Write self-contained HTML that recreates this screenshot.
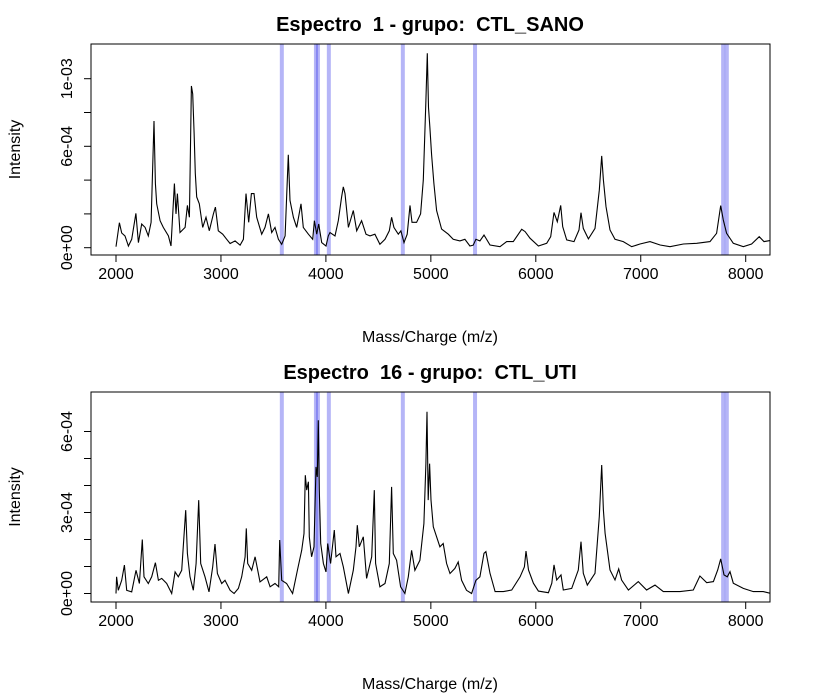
<!DOCTYPE html>
<html><head><meta charset="utf-8"><style>
body{margin:0;background:#fff;}
svg{display:block;font-family:"Liberation Sans",Arial,sans-serif;}
text{white-space:pre;}
</style></head><body>
<svg id="chart" width="816" height="694" viewBox="0 0 816 694" xmlns="http://www.w3.org/2000/svg"></svg>
<script>
// ---- data ----
const xTicks = [2000,3000,4000,5000,6000,7000,8000];
const bandMasses = [3580,3905,3924,4028,4733,5421,7785,7820];
const titles = ["Espectro  1 - grupo:  CTL_SANO","Espectro  16 - grupo:  CTL_UTI"];
// spectrum 1 (intensity in units of 1e-4)
const mass1 = [2000,2032,2054,2086,2118,2150,2190,2213,2245,2277,2308,2334,2362,2375,2388,2420,2451,2499,2524,2556,2572,2585,2610,2658,2680,2699,2718,2731,2744,2756,2769,2794,2826,2858,2889,2928,2947,2975,3017,3055,3087,3135,3182,3214,3239,3264,3290,3315,3341,3388,3420,3452,3484,3515,3547,3579,3611,3642,3658,3690,3722,3763,3785,3833,3874,3890,3912,3931,3960,4001,4023,4039,4087,4118,4150,4166,4182,4214,4261,4293,4340,4382,4420,4467,4515,4563,4604,4626,4648,4690,4715,4744,4775,4801,4820,4864,4902,4928,4953,4966,4978,4991,5007,5029,5055,5102,5166,5213,5277,5324,5372,5404,5429,5467,5506,5564,5659,5723,5786,5866,5898,5945,6025,6104,6142,6173,6205,6237,6256,6294,6364,6412,6431,6453,6501,6564,6605,6628,6644,6669,6707,6755,6834,6914,6993,7088,7184,7279,7406,7533,7660,7723,7762,7787,7818,7882,7977,8056,8129,8174,8231];
const int1 = [0.06,1.48,0.87,0.7,0.1,0.5,2.03,0.3,1.4,1.2,0.7,1.5,7.5,3.8,2.6,1.6,1.2,0.7,0.1,3.8,2.0,3.2,0.9,1.2,2.5,1.8,9.57,9.1,6.8,4.4,3.0,2.6,1.2,1.8,1.0,2.0,2.4,1.0,0.8,0.5,0.25,0.4,0.15,0.5,3.2,1.5,3.2,3.2,1.8,0.8,1.2,2.0,0.9,1.2,0.5,0.2,0.7,5.5,2.8,1.8,1.2,2.6,1.2,0.8,0.5,1.6,0.8,1.4,0.3,0.1,0.7,0.9,0.7,1.6,3.0,3.6,3.2,1.2,2.2,1.0,1.6,0.8,0.7,0.8,0.2,0.5,1.0,1.8,1.2,0.8,1.0,0.3,0.8,2.5,1.5,1.5,2.0,4.0,8.7,11.5,8.3,7.1,5.5,3.8,2.2,1.1,0.8,0.5,0.4,0.5,0.1,0.15,0.5,0.4,0.75,0.16,0.06,0.36,0.36,1.09,0.95,0.56,0.1,0.26,0.65,2.09,1.54,2.5,1.24,0.46,0.36,1.05,2.07,1.14,0.52,1.14,3.4,5.43,4.0,2.43,1.05,0.5,0.36,0.06,0.22,0.36,0.16,0.06,0.22,0.26,0.36,0.85,2.49,1.64,0.85,0.26,0.06,0.22,0.65,0.36,0.42];
// spectrum 16 (intensity in units of 1e-4)
const mass2 = [2000,2006,2022,2054,2080,2102,2150,2191,2223,2251,2267,2308,2340,2375,2404,2435,2483,2531,2563,2594,2626,2664,2680,2705,2737,2763,2788,2807,2848,2886,2921,2943,2966,3007,3039,3087,3125,3166,3198,3230,3242,3255,3293,3325,3372,3436,3468,3515,3550,3560,3579,3626,3683,3728,3769,3791,3804,3817,3833,3842,3864,3887,3906,3918,3928,3937,3950,3976,4001,4017,4045,4080,4096,4134,4166,4214,4261,4287,4299,4318,4356,4388,4436,4461,4474,4515,4563,4604,4626,4642,4674,4712,4753,4785,4817,4848,4896,4934,4953,4963,4975,4988,5001,5023,5055,5086,5118,5150,5182,5229,5261,5293,5340,5388,5429,5467,5506,5525,5564,5612,5691,5770,5850,5891,5907,5930,5977,6025,6120,6152,6173,6199,6240,6262,6342,6405,6431,6453,6491,6564,6605,6628,6644,6660,6707,6755,6790,6818,6882,6977,7056,7136,7215,7374,7501,7564,7628,7692,7733,7762,7793,7825,7850,7882,7977,8072,8167,8231];
const int2 = [0,0.62,0.12,0.49,1.05,0.12,0.06,0.86,0.37,2.0,0.62,0.37,0.62,1.14,0.49,0.56,0.37,0,0.8,0.62,0.86,3.09,1.48,0.62,0.12,1.11,3.46,1.11,0.62,0.06,0.99,1.83,0.74,0.37,0.49,0.12,0,0.19,0.62,1.36,2.41,1.11,0.86,1.36,0.43,0.62,0.25,0.37,0.25,1.98,0.49,0.37,0,0.86,1.6,2.22,4.38,3.83,4.14,2.1,1.36,1.73,4.69,4.32,6.42,3.83,1.85,1.11,0.8,1.85,1.11,2.35,1.36,1.48,0.99,0,0.86,1.73,2.53,1.73,2.1,0.56,1.36,3.83,1.11,0.25,0.37,1.11,3.95,1.48,1.23,0.25,0,0.62,1.6,0.86,1.23,2.59,4.81,6.73,3.46,4.81,3.46,2.47,2.1,1.73,1.85,1.11,0.74,0.93,1.17,0.49,0.12,0,0.49,0.62,1.49,1.55,0.75,0.07,0.07,0.13,0.62,0.99,1.57,0.87,0.38,0.09,0.03,0.38,1.06,0.5,0.69,0.13,0.19,0.87,1.92,0.75,0.31,0.75,2.85,4.76,3.09,2.23,0.87,0.5,0.91,0.5,0.13,0.44,0.13,0.31,0.07,0.07,0.13,0.65,0.4,0.44,0.87,1.28,0.69,0.62,0.81,0.38,0.19,0.07,0.07,0.01];
const yTicks1 = [0,2,4,6,8,10];
const yLabels1 = {0:"0e+00",6:"6e-04",10:"1e-03"};
const yTicks2 = [0,1,2,3,4,5,6];
const yLabels2 = {0:"0e+00",3:"3e-04",6:"6e-04"};

// ---- rendering ----
const NS="http://www.w3.org/2000/svg";
const svg=document.getElementById('chart');
function mk(tag,attrs,parent){const e=document.createElementNS(NS,tag);for(const k in attrs)e.setAttribute(k,attrs[k]);(parent||svg).appendChild(e);return e;}
const xScale = m => 116 + (m-2000)*0.10495;
const L=91,R=770;

function panel(idx,top,bottom,zeroY,pxPerUnit,mass,ints,yTicks,yLabels){
  const g=mk('g',{});
  
  
  const yScale=v=>zeroY - v*pxPerUnit;
  const cid='clip'+idx;
  const cp=mk('clipPath',{id:cid},g);
  mk('rect',{x:L,y:top,width:R-L,height:bottom-top},cp);
  bandMasses.forEach(b=>{
    const r=mk('rect',{x:xScale(b)-2,y:top,width:4,height:bottom-top,fill:'rgba(60,60,235,0.38)'},g);
    
    
  });
  let d='';
  mass.forEach((m,i)=>{d+=(i?'L':'M')+xScale(m).toFixed(1)+','+yScale(ints[i]).toFixed(1);});
  const p=mk('path',{d:d,fill:'none',stroke:'#000','stroke-width':1.1,'clip-path':'url(#'+cid+')'},g);
  
  
  const box=mk('rect',{x:L,y:top,width:R-L,height:bottom-top,fill:'none',stroke:'#000','stroke-width':1},g);
  
  
  xTicks.forEach(t=>{
    const x=xScale(t);
    mk('line',{x1:x,x2:x,y1:bottom,y2:bottom+7,stroke:'#000'},g);
    const tx=mk('text',{x:x,y:bottom+24,'text-anchor':'middle','font-size':16},g);
    tx.textContent=t;
    
    
  });
  const xl=mk('text',{x:430,y:bottom+87,'text-anchor':'middle','font-size':16},g);
  xl.textContent='Mass/Charge (m/z)';
  
  
  yTicks.forEach(t=>{
    const y=yScale(t);
    mk('line',{x1:L-7,x2:L,y1:y,y2:y,stroke:'#000'},g);
    if(yLabels[t]){
      const tx=mk('text',{x:0,y:0,'text-anchor':'middle','font-size':16,transform:'translate(72,'+y+') rotate(-90)'},g);
      tx.textContent=yLabels[t];
      
      
    }
  });
  const cy=(top+bottom)/2;
  const yl=mk('text',{x:0,y:0,'text-anchor':'middle','font-size':16,transform:'translate(20,'+cy+') rotate(-90)'},g);
  yl.textContent='Intensity';
  
  
  const ti=mk('text',{x:430,y:top-13,'text-anchor':'middle','font-size':20,'font-weight':'bold'},g);
  ti.textContent=titles[idx];
  
  
}
panel(0,44,255,247.7,16.9,mass1,int1,yTicks1,yLabels1);
panel(1,392,602,593.5,27,mass2,int2,yTicks2,yLabels2);
</script>
</body></html>
